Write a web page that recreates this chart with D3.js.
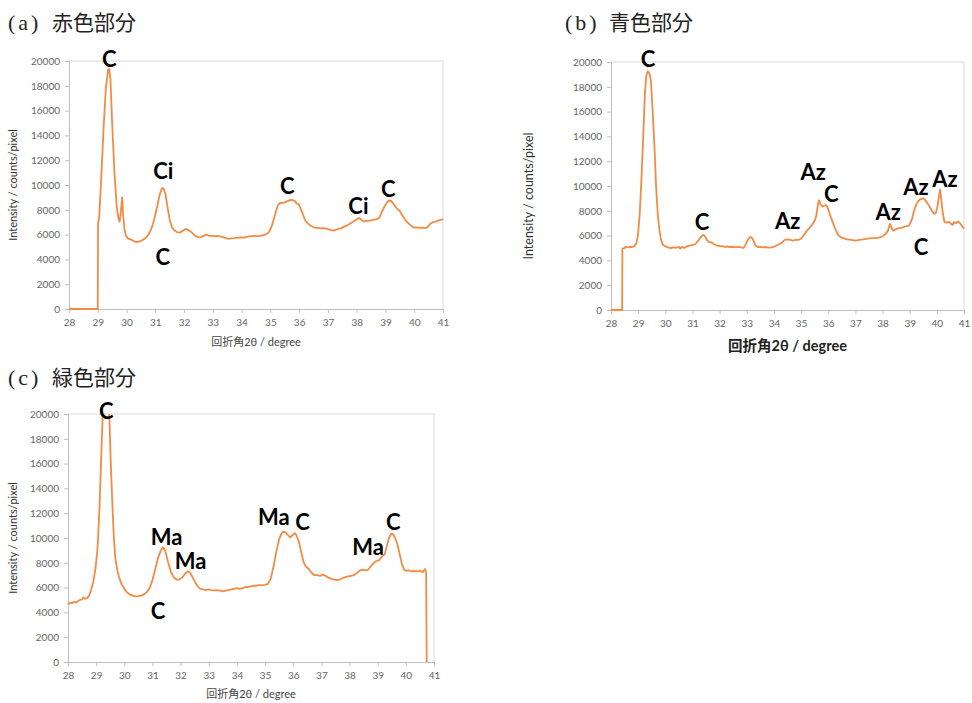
<!DOCTYPE html>
<html lang="ja">
<head>
    <meta charset="UTF-8">
    <title>XRD</title>
    <style>
        body { margin: 0; background: #fff; }
    </style>
</head>
<body>

    <svg id="svg" width="972" height="703"></svg>

    <script src="https://d3js.org/d3.v7.min.js"></script>
    <script>
        // [2theta, intensity]
        const redSeries = [
            [28.0,0],[29.0,0],[29.01,6900],[29.05,7400],[29.12,10500],[29.2,14500],[29.28,17800],[29.36,19300],[29.40,19350],
            [29.44,18500],[29.5,15000],[29.58,11000],[29.66,8200],[29.72,7300],[29.76,7050],[29.8,7800],[29.85,9000],[29.88,7600],
            [29.93,6400],[29.98,5900],[30.05,5700],[30.15,5600],[30.25,5480],[30.35,5400],[30.45,5450],[30.55,5550],[30.65,5700],
            [30.75,5950],[30.85,6400],[30.95,7100],[31.05,8100],[31.15,9200],[31.22,9700],[31.28,9750],[31.35,9300],[31.42,8300],
            [31.5,7200],[31.58,6600],[31.66,6350],[31.75,6200],[31.85,6150],[31.95,6300],[32.05,6450],[32.12,6400],[32.2,6300],
            [32.3,6100],[32.4,5900],[32.5,5780],[32.58,5800],[32.68,5900],[32.78,6000],[32.85,5920],[32.95,5900],[33.05,5880],
            [33.15,5900],[33.25,5850],[33.35,5800],[33.45,5720],[33.55,5650],[33.65,5700],[33.75,5720],[33.85,5750],[33.95,5780],
            [34.05,5750],[34.15,5800],[34.25,5850],[34.35,5870],[34.45,5900],[34.55,5880],[34.65,5900],[34.75,5950],[34.85,6020],
            [34.95,6200],[35.05,6700],[35.15,7500],[35.25,8300],[35.32,8550],[35.4,8550],[35.5,8600],[35.6,8700],[35.7,8800],
            [35.78,8780],[35.85,8700],[35.92,8500],[35.98,8480],[36.05,8100],[36.12,7700],[36.2,7200],[36.28,6950],[36.35,6800],
            [36.45,6650],[36.55,6550],[36.65,6550],[36.75,6500],[36.85,6520],[36.95,6480],[37.05,6400],[37.15,6330],[37.25,6350],
            [37.35,6450],[37.45,6500],[37.55,6620],[37.65,6720],[37.75,6850],[37.85,7000],[37.95,7150],[38.05,7300],[38.1,7330],
            [38.18,7150],[38.25,7050],[38.32,7120],[38.4,7100],[38.5,7150],[38.6,7200],[38.7,7250],[38.78,7350],[38.85,7700],
            [38.95,8200],[39.05,8600],[39.12,8750],[39.2,8720],[39.3,8400],[39.4,8100],[39.5,7900],[39.6,7500],[39.7,7150],
            [39.8,6900],[39.9,6700],[40.0,6560],[40.1,6580],[40.2,6550],[40.3,6560],[40.4,6520],[40.45,6600],[40.55,6850],
            [40.65,7000],[40.75,7050],[40.85,7150],[40.95,7200],[41.0,7250]
        ]

        const blueSeries = [
            [28.0,0],[28.41,0],[28.42,4950],[28.5,5000],[28.55,5100],[28.62,5050],[28.7,5100],[28.78,5080],[28.86,5150],
            [28.94,5400],[29.0,6200],[29.06,7800],[29.12,10500],[29.18,13600],[29.25,17500],[29.3,18900],[29.36,19250],
            [29.42,19050],[29.47,18500],[29.53,16200],[29.6,13200],[29.66,10000],[29.72,7800],[29.78,6500],[29.84,5700],
            [29.9,5300],[29.98,5150],[30.1,5050],[30.2,5000],[30.3,5050],[30.4,5020],[30.5,5100],[30.55,4950],[30.62,5080],
            [30.7,5000],[30.8,5150],[30.9,5200],[31.0,5250],[31.1,5300],[31.2,5550],[31.3,5850],[31.38,6050],[31.45,6000],
            [31.52,5700],[31.6,5500],[31.7,5450],[31.8,5300],[31.9,5200],[32.0,5150],[32.1,5150],[32.2,5100],[32.3,5120],
            [32.4,5080],[32.5,5100],[32.6,5050],[32.7,5100],[32.8,5050],[32.88,5000],[32.95,5250],[33.05,5700],[33.12,5880],
            [33.18,5850],[33.25,5600],[33.32,5200],[33.4,5080],[33.5,5100],[33.6,5050],[33.7,5080],[33.8,5030],[33.9,5050],
            [34.0,5100],[34.1,5200],[34.2,5300],[34.3,5450],[34.4,5650],[34.5,5700],[34.6,5650],[34.7,5600],[34.8,5650],
            [34.9,5650],[35.0,5750],[35.1,6050],[35.2,6350],[35.3,6600],[35.4,6850],[35.5,7200],[35.56,7600],[35.62,8500],
            [35.66,8850],[35.72,8500],[35.8,8350],[35.88,8450],[35.95,8400],[36.02,8000],[36.1,7450],[36.18,7000],[36.25,6600],
            [36.35,6100],[36.45,5900],[36.55,5800],[36.7,5700],[36.85,5650],[37.0,5600],[37.15,5650],[37.3,5700],[37.45,5750],
            [37.6,5800],[37.75,5800],[37.9,5850],[38.0,5950],[38.1,6100],[38.2,6400],[38.27,6950],[38.32,6700],[38.38,6400],
            [38.48,6500],[38.6,6600],[38.72,6650],[38.85,6750],[38.98,6800],[39.08,7300],[39.16,8000],[39.24,8500],[39.32,8800],
            [39.4,8950],[39.5,9000],[39.58,8850],[39.66,8600],[39.74,8300],[39.82,8000],[39.9,7750],[39.96,7800],[40.02,8300],
            [40.08,9200],[40.12,9700],[40.17,8800],[40.22,7800],[40.28,7100],[40.35,7050],[40.45,7100],[40.52,6950],[40.58,6850],
            [40.63,7100],[40.7,7000],[40.78,7150],[40.85,7000],[40.92,6800],[41.0,6550]
        ]

        const greenSeries = [
            [28.0,4750],[28.05,4700],[28.1,4800],[28.15,4750],[28.2,4850],[28.28,4800],[28.35,4900],[28.42,5000],[28.5,5050],
            [28.55,5200],[28.6,5100],[28.68,5150],[28.75,5350],[28.82,5800],[28.9,6500],[28.98,7600],[29.05,9200],[29.12,12500],
            [29.18,16500],[29.24,20500],[29.3,22000],[29.38,22000],[29.46,20500],[29.52,16000],[29.58,12500],[29.63,10000],
            [29.68,8400],[29.75,7400],[29.82,6800],[29.9,6300],[30.0,5900],[30.1,5600],[30.2,5450],[30.3,5350],[30.4,5300],
            [30.5,5320],[30.6,5350],[30.7,5450],[30.8,5650],[30.9,5950],[31.0,6600],[31.1,7500],[31.2,8400],[31.3,9000],
            [31.37,9250],[31.45,9000],[31.55,8100],[31.65,7300],[31.75,6850],[31.85,6650],[31.95,6650],[32.05,6800],[32.15,7100],
            [32.25,7300],[32.32,7250],[32.4,6950],[32.5,6500],[32.6,6100],[32.7,5900],[32.8,5850],[32.9,5800],[33.0,5850],
            [33.1,5800],[33.2,5780],[33.3,5800],[33.4,5750],[33.5,5700],[33.6,5750],[33.7,5800],[33.8,5850],[33.9,5900],
            [34.0,5950],[34.1,5900],[34.2,5950],[34.3,6050],[34.4,6050],[34.5,6100],[34.6,6150],[34.7,6150],[34.8,6200],
            [34.9,6200],[35.0,6220],[35.1,6300],[35.2,6700],[35.3,7700],[35.4,8900],[35.5,9900],[35.58,10350],[35.66,10500],
            [35.74,10450],[35.82,10200],[35.9,10050],[35.98,10250],[36.05,10400],[36.12,10200],[36.2,9700],[36.28,8900],
            [36.36,8100],[36.45,7700],[36.55,7500],[36.65,7200],[36.75,7000],[36.85,7000],[36.95,6950],[37.05,7050],[37.15,6950],
            [37.25,6800],[37.35,6700],[37.45,6650],[37.55,6600],[37.65,6650],[37.75,6750],[37.85,6850],[37.95,6900],[38.05,6950],
            [38.15,7000],[38.25,7150],[38.35,7350],[38.45,7450],[38.55,7400],[38.65,7420],[38.75,7700],[38.85,7950],[38.95,8150],
            [39.05,8200],[39.15,8500],[39.25,8700],[39.32,9300],[39.4,10000],[39.48,10350],[39.55,10300],[39.62,10000],
            [39.7,9500],[39.78,8700],[39.86,7900],[39.94,7450],[40.02,7350],[40.1,7400],[40.2,7300],[40.3,7350],[40.4,7300],
            [40.5,7350],[40.6,7250],[40.68,7500],[40.72,7200],[40.74,0]
        ]

        // peak annotations: [text, 2theta, intensity]
        const redLabels = [['C',29.40,20220],['Ci',31.28,11130],['C',31.26,4220],['C',35.59,10000],['Ci',38.06,8330],['C',39.10,9680]]
        const blueLabels = [['C',29.36,20270],['C',31.35,7110],['Az',34.51,7250],['Az',35.45,11140],['C',36.11,9400],
            ['Az',38.21,7920],['Az',39.23,9930],['Az',40.30,10610],['C',39.42,5100]]
        const greenLabels = [['C',29.36,20270],['Ma',31.50,10150],['Ma',32.35,8160],['C',31.20,4120],['Ma',35.31,11710],
            ['C',36.33,11300],['Ma',38.66,9290],['C',39.55,11360]]

        const xTicks = d3.range(28, 42)
        const yTicks = d3.range(0, 20001, 2000)
        const panelTags = ['(a)', '(b)', '(c)']
        const panelNames = ['赤色部分', '青色部分', '緑色部分']
        const xTitle = '回折角2θ / degree'
        const yTitle = 'Intensity / counts/pixel'

        const svg = d3.select('#svg')
        const latin = 'Lato, "Noto Sans CJK JP", sans-serif'

        const panels = [
            { id: 'a', data: redSeries, labels: redLabels, tag: panelTags[0], name: panelNames[0], tx: 8, ty: 30,
              left: 69, right: 443, top: 61, bottom: 309, xtY: 346, xtSize: 11, xtWeight: 400, ytX: 17, ytY: 185, ytSize: 11 },
            { id: 'b', data: blueSeries, labels: blueLabels, tag: panelTags[1], name: panelNames[1], tx: 565, ty: 30,
              left: 611, right: 964, top: 62, bottom: 310, xtY: 351, xtSize: 14.5, xtWeight: 700, ytX: 533, ytY: 196, ytSize: 12.5 },
            { id: 'c', data: greenSeries, labels: greenLabels, tag: panelTags[2], name: panelNames[2], tx: 8, ty: 385,
              left: 68, right: 434, top: 414, bottom: 662, xtY: 698, xtSize: 11, xtWeight: 400, ytX: 17, ytY: 538, ytSize: 11 }
        ]

        panels.forEach(p => {
            const xScale = d3.scaleLinear().domain([28, 41]).range([p.left, p.right])
            const yScale = d3.scaleLinear().domain([0, 20000]).range([p.bottom, p.top])

            const g = svg.append('g')

            // title: "(a)" + name
            g.append('text')
                .text(p.tag)
                .attr('x', p.tx)
                .attr('y', p.ty)
                .style('font-family', '"Liberation Serif", serif')
                .style('font-size', '22px')
                .style('letter-spacing', '3px')
                .attr('fill', '#222')
            g.append('text')
                .text(p.name)
                .attr('x', p.tx + 44)
                .attr('y', p.ty)
                .style('font-family', '"Noto Sans CJK JP", sans-serif')
                .style('font-size', '21px')
                .attr('fill', '#222')

            // plot frame (top + right)
            g.append('path')
                .attr('d', `M${p.left},${p.top}H${p.right}V${p.bottom}`)
                .attr('fill', 'none')
                .attr('stroke', '#d9d9d9')

            const xAxis = g.append('g')
                .attr('transform', `translate(0,${p.bottom})`)
                .call(d3.axisBottom(xScale).tickValues(xTicks).tickSize(4).tickPadding(6))
            const yAxis = g.append('g')
                .attr('transform', `translate(${p.left},0)`)
                .call(d3.axisLeft(yScale).tickValues(yTicks).tickSize(4).tickPadding(5).tickFormat(d3.format('d')))

            ;[xAxis, yAxis].forEach(ax => {
                ax.select('.domain').attr('stroke', '#bfbfbf')
                ax.selectAll('.tick line').attr('stroke', '#bfbfbf')
                ax.selectAll('.tick text')
                    .attr('fill', '#666')
                    .style('font-family', latin)
                    .style('font-size', '10px')
            })

            // axis titles
            g.append('text')
                .text(xTitle)
                .attr('x', (p.left + p.right) / 2)
                .attr('y', p.xtY)
                .attr('text-anchor', 'middle')
                .attr('fill', p.xtWeight === 700 ? '#222' : '#444')
                .style('font-family', latin)
                .style('font-size', p.xtSize + 'px')
                .style('font-weight', p.xtWeight)

            g.append('text')
                .text(yTitle)
                .attr('transform', `translate(${p.ytX},${p.ytY}) rotate(-90)`)
                .attr('text-anchor', 'middle')
                .attr('fill', '#333')
                .style('font-family', latin)
                .style('font-size', p.ytSize + 'px')

            // clip so the saturated peak stops at the top line
            g.append('clipPath')
                .attr('id', 'clip-' + p.id)
                .append('rect')
                .attr('x', p.left - 2)
                .attr('y', p.top)
                .attr('width', p.right - p.left + 4)
                .attr('height', p.bottom - p.top + 3)

            g.append('path')
                .datum(p.data)
                .attr('clip-path', `url(#clip-${p.id})`)
                .attr('d', d3.line().x(d => xScale(d[0])).y(d => yScale(d[1])))
                .attr('fill', 'none')
                .attr('stroke', '#f28b45')
                .attr('stroke-width', 1.8)
                .attr('stroke-linejoin', 'round')

            g.selectAll('.peak')
                .data(p.labels)
                .enter()
                .append('text')
                .attr('class', 'peak')
                .text(d => d[0])
                .attr('x', d => xScale(d[1]))
                .attr('y', d => yScale(d[2]))
                .attr('text-anchor', 'middle')
                .attr('dominant-baseline', 'central')
                .style('font-family', latin)
                .style('font-size', '22px')
                .style('font-weight', 700)
                .attr('fill', '#000')
        })
    </script>
</body>
</html>
